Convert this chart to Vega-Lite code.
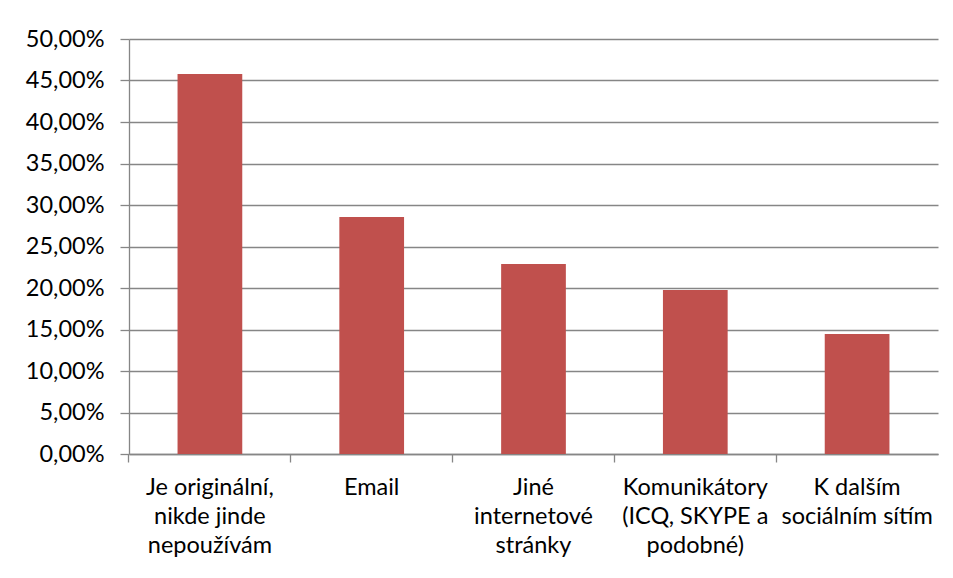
{
  "$schema": "https://vega.github.io/schema/vega-lite/v6.json",
  "width": 809,
  "height": 415,
  "autosize": {"type": "none"},
  "padding": {"left": 129, "top": 39, "right": 15, "bottom": 124},
  "background": "white",
  "data": {
    "values": [
      {"kategorie": "Je originální, nikde jinde nepoužívám", "podil": 0.4578},
      {"kategorie": "Email", "podil": 0.2855},
      {"kategorie": "Jiné internetové stránky", "podil": 0.2289},
      {"kategorie": "Komunikátory (ICQ, SKYPE a podobné)", "podil": 0.1976},
      {"kategorie": "K dalším sociálním sítím", "podil": 0.1446}
    ]
  },
  "mark": {"type": "bar", "color": "#C0504D"},
  "encoding": {
    "x": {
      "field": "kategorie",
      "type": "nominal",
      "sort": null,
      "scale": {"paddingInner": 0.6, "paddingOuter": 0.3},
      "axis": {
        "title": null,
        "labelAngle": 0,
        "bandPosition": -0.75,
        "domainColor": "#868686",
        "domainWidth": 1.3,
        "tickColor": "#868686",
        "tickWidth": 1.3,
        "tickSize": 8,
        "labelFont": "Lato",
        "labelFontSize": 23.5,
        "labelColor": "#000000",
        "labelPadding": 13,
        "labelLineHeight": 29,
        "labelBaseline": "top",
        "labelAlign": "center",
        "labelLimit": 0,
        "labelExpr": "datum.value == 'Je originální, nikde jinde nepoužívám' ? ['Je originální,', 'nikde jinde', 'nepoužívám'] : datum.value == 'Jiné internetové stránky' ? ['Jiné', 'internetové', 'stránky'] : datum.value == 'Komunikátory (ICQ, SKYPE a podobné)' ? ['Komunikátory', '(ICQ, SKYPE a', 'podobné)'] : datum.value == 'K dalším sociálním sítím' ? ['K dalším', 'sociálním sítím'] : datum.value"
      }
    },
    "y": {
      "field": "podil",
      "type": "quantitative",
      "scale": {"domain": [0, 0.5], "nice": false},
      "axis": {
        "title": null,
        "values": [0, 0.05, 0.1, 0.15, 0.2, 0.25, 0.3, 0.35, 0.4, 0.45, 0.5],
        "labelExpr": "replace(format(datum.value, '.2%'), '.', ',')",
        "grid": true,
        "gridColor": "#868686",
        "gridWidth": 1.3,
        "domainColor": "#868686",
        "domainWidth": 1.3,
        "tickColor": "#868686",
        "tickWidth": 1.3,
        "tickSize": 9,
        "labelFont": "Lato",
        "labelFontSize": 23.5,
        "labelColor": "#000000",
        "labelPadding": 16
      }
    }
  },
  "config": {
    "view": {"stroke": null},
    "axis": {"gridCap": "butt"}
  }
}
